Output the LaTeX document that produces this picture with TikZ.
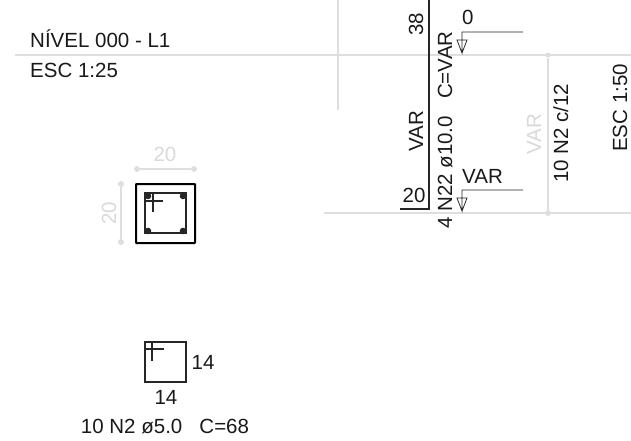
\documentclass[tikz,border=0pt]{standalone}
\usepackage{fontspec}
\setmainfont{Liberation Sans}
\tikzset{
  lbl/.style={inner sep=0pt,text=black!90,font=\fontsize{20.5}{20.5}\selectfont},
  lblgray/.style={lbl,text=black!15},
  guide/.style={draw=black!13,line width=1.2pt},
  rebar/.style={draw=black!85,line width=1.5pt},
  stirrup/.style={draw=black!85,line width=1.2pt},
  tip/.style={fill=black!13,draw=none,circle,minimum size=6pt,inner sep=0pt}
}
\begin{document}
\begin{tikzpicture}[x=1pt,y=-1pt]
  \useasboundingbox (0,0) rectangle (631,441);
  \coordinate (GA) at (15,55);
  \coordinate (GB) at (631,55);
  \coordinate (GC) at (338,0);
  \coordinate (GD) at (338,110);
  \coordinate (GE) at (324,213);
  \coordinate (GF) at (631,213);
  \draw[guide] (GA) -- (GB); %level line%
  \draw[guide] (GC) -- (GD);
  \draw[guide] (GE) -- (GF);

  \node[lbl,anchor=base west] (title) at (30,48) {NÍVEL 000 - L1};
  \node[lbl,anchor=base west] (scaleA) at (30,78) {ESC 1:25};

  %column section%
  \coordinate (SA) at (136,184);
  \coordinate (SB) at (195,243);
  \draw[draw=black,line width=2pt,rounded corners=0.5pt] (SA) rectangle (SB);
  \coordinate (TA) at (145,193);
  \coordinate (TB) at (186,233);
  \draw[stirrup] (TA) rectangle (TB);
  \draw[stirrup] (146,201) -- (163,201);
  \draw[stirrup] (153,193) -- (153,212);
  \foreach \bx/\by in {148/196,183/196,148/231,183/231}
    \fill[black!85] (\bx,\by) circle (3.3pt);

  \node[tip] (dimA) at (137,169) {};
  \node[tip] (dimB) at (194,169) {};
  \draw[guide] (dimA) -- (dimB);
  \node[lblgray] (dimtop) at (165,154) {20};
  \node[tip] (dimC) at (121,184) {};
  \node[tip] (dimD) at (121,242) {};
  \draw[guide] (dimC) -- (dimD);
  \node[lblgray,rotate=90] (dimleft) at (109,213) {20};

  %long bar%
  \coordinate (RA) at (429,0);
  \coordinate (RB) at (429,209);
  \coordinate (RC) at (400,209);
  \draw[rebar] (RA) -- (RB) -- (RC);
  \node[lbl,rotate=90,anchor=base west] (ltop) at (423,36) {38};
  \node[lbl,rotate=90,anchor=base west] (lvar) at (423,152) {VAR};
  \node[lbl,anchor=base] (lbot) at (414,202) {20};
  \node[lbl,rotate=90,anchor=base west] (lbar) at (452,229) {4 N22 ø10.0\ \ \ C=VAR};

  %level marks%
  \foreach \lname/\ly/\ltext in {markA/32/0,markB/190/VAR}{
    \coordinate (\lname a) at (462,\ly);
    \coordinate (\lname b) at (523,\ly);
    \coordinate (\lname c) at (462,\ly+21);
    \coordinate (\lname d) at (457,\ly+8);
    \coordinate (\lname e) at (467,\ly+8);
    \draw[draw=black!85,line width=0.8pt] (\lname b) -- (\lname a) -- (\lname c) -- (\lname d) -- (\lname e) -- (\lname c);
    \node[lbl,anchor=base west] (\lname t) at (462,\ly-7) {\ltext};
  }

  \node[tip,minimum size=5pt] (stirA) at (548,55) {};
  \node[tip] (stirB) at (548,213) {};
  \draw[guide] (stirA) -- (stirB);
  \node[lblgray,rotate=90,anchor=base west] (lvarb) at (541,155) {VAR};
  \node[lbl,rotate=90,anchor=base west] (lstir) at (568,183) {10 N2 c/12};
  \node[lbl,rotate=90,anchor=base west] (scaleB) at (627,152) {ESC 1:50};

  %stirrup detail%
  \coordinate (DA) at (145,342);
  \coordinate (DB) at (186,382);
  \draw[stirrup] (DA) rectangle (DB);
  \draw[stirrup] (145,349) -- (164,349);
  \draw[stirrup] (152,342) -- (152,361);
  \node[lbl] (dright) at (203,362) {14};
  \node[lbl] (dbelow) at (166,397) {14};
  \node[lbl] (dtext) at (165,427) {10 N2 ø5.0\ \ \ C=68};
\end{tikzpicture}
\end{document}
